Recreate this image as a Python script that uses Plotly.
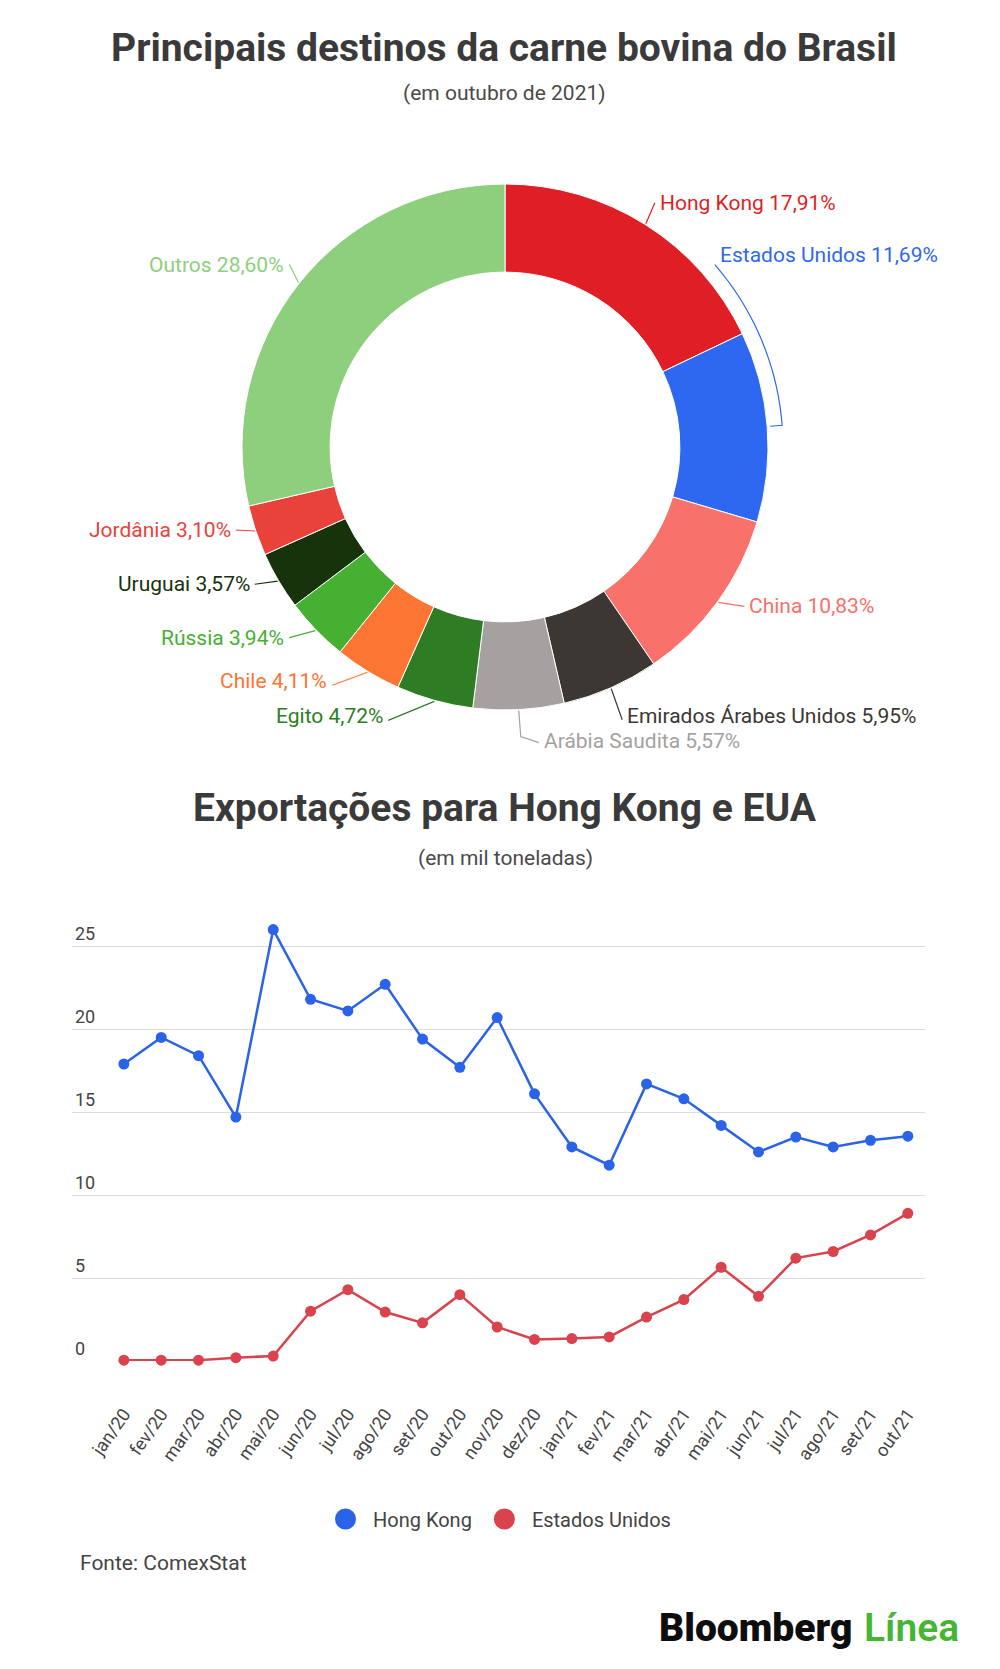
import math
import plotly.graph_objects as go

W, H = 1000, 1669

# Donut: principais destinos (% do volume, outubro de 2021)
destinos = ["Hong Kong", "Estados Unidos", "China", "Emirados Árabes Unidos", "Arábia Saudita",
            "Egito", "Chile", "Rússia", "Uruguai", "Jordânia", "Outros"]
participacao = [17.91, 11.69, 10.83, 5.95, 5.57, 4.72, 4.11, 3.94, 3.57, 3.10, 28.60]
cores_pizza = ["#e01e25", "#2f68f0", "#f8716a", "#3c3733", "#a5a1a0",
               "#2e7d24", "#fd7532", "#45b031", "#17330c", "#e9423b", "#8ecf7d"]

# Linhas: exportações mensais (mil toneladas)
meses = ["jan/20", "fev/20", "mar/20", "abr/20", "mai/20", "jun/20", "jul/20", "ago/20",
         "set/20", "out/20", "nov/20", "dez/20", "jan/21", "fev/21", "mar/21", "abr/21",
         "mai/21", "jun/21", "jul/21", "ago/21", "set/21", "out/21"]
hong_kong = [17.9, 19.5, 18.4, 14.7, 26.0, 21.8, 21.1, 22.7, 19.4, 17.7, 20.7, 16.1,
             12.9, 11.8, 16.7, 15.8, 14.2, 12.6, 13.5, 12.9, 13.3, 13.55]
estados_unidos = [0.05, 0.05, 0.05, 0.2, 0.3, 3.0, 4.3, 2.95, 2.3, 4.0, 2.05, 1.3,
                  1.35, 1.45, 2.65, 3.7, 5.65, 3.9, 6.2, 6.6, 7.6, 8.9]

BLUE = "#2b63e8"
RED = "#d8434e"
FONT = "Roboto"

# donut geometry (pixels from top-left)
CX, CY, R = 497, 439, 263

# label offsets from the slice mid-point on the outer edge (px) and text side
label_offset = {
    "Hong Kong": (12, -21, "left"),
    "Estados Unidos": (-50, -171, "left"),
    "China": (29, 4, "left"),
    "Emirados Árabes Unidos": (14, 27, "left"),
    "Arábia Saudita": (23, 30, "left"),
    "Egito": (-49, 15, "right"),
    "Chile": (-38, 9, "right"),
    "Rússia": (-29, 7, "right"),
    "Uruguai": (-26, 3, "right"),
    "Jordânia": (-22, -1, "right"),
    "Outros": (-12, -18, "right"),
}


def paper(x, y):
    return x / W, 1 - y / H


def polar(r, ang):
    a = math.radians(ang)
    return CX + r * math.sin(a), CY - r * math.cos(a)


def path_of(points):
    pts = [paper(x, y) for x, y in points]
    return "M " + " L ".join(f"{x:.5f},{y:.5f}" for x, y in pts)


fig = go.Figure()

fig.add_trace(go.Pie(
    labels=destinos, values=participacao, sort=False, direction="clockwise", rotation=0,
    hole=0.665, marker=dict(colors=cores_pizza, line=dict(color="white", width=1)),
    textinfo="none", hoverinfo="label+percent", showlegend=False,
    domain=dict(x=[(CX - R) / W, (CX + R) / W], y=[1 - (CY + R) / H, 1 - (CY - R) / H]),
))

annotations = []
shapes = []
total = sum(participacao)
acum = 0
for nome, v, cor in zip(destinos, participacao, cores_pizza):
    meio = (acum + v / 2) / total * 360
    acum += v
    ex, ey = polar(R + 1, meio)
    dx, dy, lado = label_offset[nome]
    tx, ty = ex + dx, ey + dy
    txt = f"{nome} {v:.2f}%".replace(".", ",")
    ax_, ay_ = paper(tx, ty)
    annotations.append(dict(
        x=ax_, y=ay_, xref="paper", yref="paper", text=txt, showarrow=False,
        xanchor=lado, yanchor="middle", font=dict(family=FONT, size=21, color=cor)))
    fim = tx - 3 if lado == "left" else tx + 3
    if nome == "Estados Unidos":
        # bracket following the outside of the slice up to the label
        pts = [polar(R + 3, meio), polar(R + 15, meio)]
        ang = meio
        while ang > 49:
            ang = max(ang - 2, 49)
            pts.append(polar(R + 15, ang))
    elif nome == "Arábia Saudita":
        pts = [(ex, ey), (ex + 2, ty - 4), (fim, ty + 2)]
    else:
        pts = [(ex, ey), (fim, ty + (4 if dy > 8 else 0))]
    shapes.append(dict(type="path", path=path_of(pts), xref="paper", yref="paper",
                       line=dict(color=cor, width=1.2)))

fig.add_trace(go.Scatter(
    x=meses, y=hong_kong, mode="lines+markers", name="Hong Kong", showlegend=False,
    line=dict(color=BLUE, width=2.5), marker=dict(size=11, color=BLUE), cliponaxis=False))
fig.add_trace(go.Scatter(
    x=meses, y=estados_unidos, mode="lines+markers", name="Estados Unidos", showlegend=False,
    line=dict(color=RED, width=2.5), marker=dict(size=11, color=RED), cliponaxis=False))

# legend entries (circle only)
for nome, cor in [("Hong Kong", BLUE), ("Estados Unidos", RED)]:
    fig.add_trace(go.Scatter(
        x=[None], y=[None], mode="markers", name=nome,
        marker=dict(size=16, color=cor, line=dict(color=cor, width=5))))

textos = [
    ("<b>Principais destinos da carne bovina do Brasil</b>", 496, 40, 39, "#3a3a3a", "center"),
    ("(em outubro de 2021)", 496, 85, 21, "#4a4a4a", "center"),
    ("<b>Exportações para Hong Kong e EUA</b>", 497, 800, 39, "#3a3a3a", "center"),
    ("(em mil toneladas)", 497, 850, 21, "#4a4a4a", "center"),
    ("Fonte: ComexStat", 70, 1555, 21, "#444444", "left"),
]
for t, x, y, s, c, anc in textos:
    px_, py_ = paper(x, y)
    annotations.append(dict(x=px_, y=py_, xref="paper", yref="paper", text=t, showarrow=False,
                            xanchor=anc, yanchor="middle", font=dict(family=FONT, size=s, color=c)))

bx, by = paper(846, 1620)
annotations.append(dict(
    x=bx, y=by, xref="paper", yref="paper", showarrow=False, xanchor="right", yanchor="middle",
    text="Bloomberg", font=dict(family=FONT, size=39, color="#0d0d0d", weight=900)))
lx, ly = paper(854, 1620)
annotations.append(dict(
    x=lx, y=ly, xref="paper", yref="paper", showarrow=False, xanchor="left", yanchor="middle",
    text="Línea", font=dict(family=FONT, size=39, color="#46b534", weight=600)))

fig.update_layout(
    width=W, height=H, margin=dict(l=0, r=0, t=0, b=0),
    paper_bgcolor="white", plot_bgcolor="white",
    font=dict(family=FONT, size=19, color="#444444"),
    annotations=annotations, shapes=shapes,
    showlegend=True,
    legend=dict(orientation="h", x=0.489, xanchor="center", y=1 - 1511 / H, yanchor="middle",
                itemwidth=45, font=dict(family=FONT, size=20, color="#444444"), itemclick=False),
    xaxis=dict(domain=[0.064, 0.917], type="category", range=[-1.39, 21.46],
               showgrid=False, zeroline=False, showline=False, ticks="",
               tickangle=-55, ticklabelstandoff=38,
               tickfont=dict(family=FONT, size=18, color="#444444")),
    yaxis=dict(domain=[1 - 1353 / H, 1 - 905 / H], range=[0, 27], dtick=5,
               showgrid=True, gridcolor="#dcdcdc", gridwidth=1, zeroline=False, showline=False,
               ticklabelposition="inside top", ticks="",
               tickfont=dict(family=FONT, size=18, color="#444444")),
)

fig.write_html("out.html")
